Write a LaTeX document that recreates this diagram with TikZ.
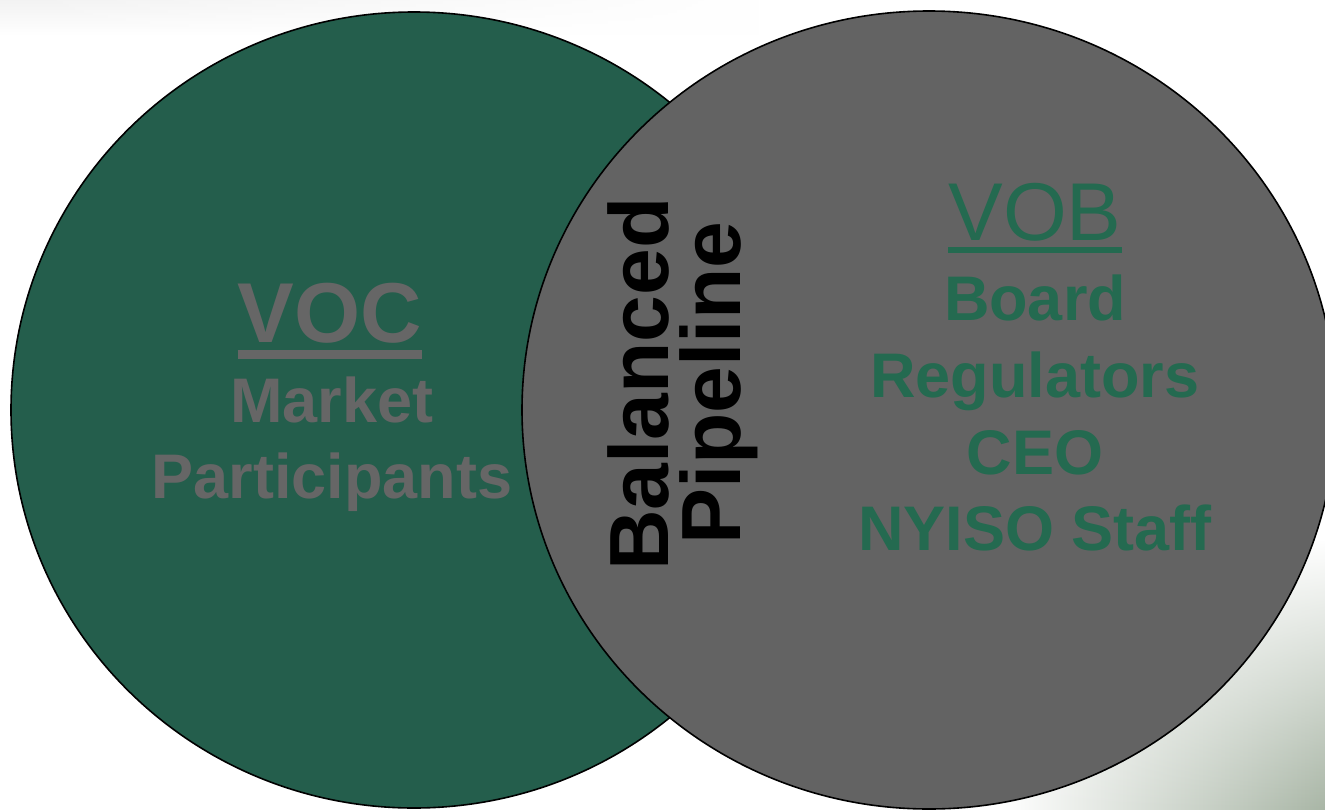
\documentclass[tikz,border=0pt]{standalone}
\usepackage{fontspec}
\setmainfont{Liberation Sans}
\usetikzlibrary{fadings}

\definecolor{vocgreen}{HTML}{245E4C}
\definecolor{vobgray}{HTML}{636363}
\definecolor{labgray}{HTML}{666666}
\definecolor{labgreen}{HTML}{246A50}
\definecolor{haze}{HTML}{A9B6A6}

\tikzfading[name=fadeup, top color=transparent!100, bottom color=transparent!0]
\tikzfading[name=faderight, left color=transparent!0, right color=transparent!100]

\tikzset{
  setcircle/.style={draw=black, line width=1.6pt},
  lefttext/.style={text=labgray, font=\bfseries\fontsize{63}{63}\selectfont, inner sep=0pt, anchor=base},
  righttext/.style={text=labgreen, font=\bfseries\fontsize{63}{63}\selectfont, inner sep=0pt, anchor=base},
  pipetext/.style={text=black, font=\bfseries\fontsize{84}{84}\selectfont, inner sep=0pt, anchor=base, rotate=90},
}

\begin{document}
\begin{tikzpicture}[x=1pt,y=-1pt]
  \useasboundingbox (0,0) rectangle (1325,809);
  \clip (0,0) rectangle (1325,809);

  % soft backdrop shading
  \fill[white] (0,0) rectangle (1325,809);
  \shade[top color=black!5, bottom color=white, path fading=faderight] (0,0) rectangle (760,36);
  \shade[left color=white, right color=haze, path fading=fadeup] (1000,540) rectangle (1325,809);

  % the two sets
  \draw[setcircle, fill=vocgreen] (414,410) ellipse [x radius=403, y radius=398];
  \draw[setcircle, fill=vobgray] (929,410) ellipse [x radius=407, y radius=399];

  % left set labels
  \node[lefttext, font=\bfseries\fontsize{85}{85}\selectfont] (voc) at (330,342) {VOC};
  \draw[labgray, line width=9pt] ([yshift=-12.5pt]voc.base west) -- ([yshift=-12.5pt]voc.base east);
  \node[lefttext] (market) at (332,422) {Market};
  \node[lefttext] (participants) at (332,498) {Participants};

  % overlap label
  \node[pipetext] (balanced) at (668,384) {Balanced};
  \node[pipetext] (pipeline) at (740,383) {Pipeline};

  % right set labels
  \node[righttext, font=\fontsize{82}{82}\selectfont] (vob) at (1035,240) {VOB};
  \draw[labgreen, line width=6pt] ([yshift=-10pt]vob.base west) -- ([yshift=-10pt]vob.base east);
  \node[righttext] (board) at (1035,320) {Board};
  \node[righttext] (regulators) at (1035,397) {Regulators};
  \node[righttext] (ceo) at (1035,474) {CEO};
  \node[righttext] (staff) at (1035,550) {NYISO Staff};
\end{tikzpicture}
\end{document}
